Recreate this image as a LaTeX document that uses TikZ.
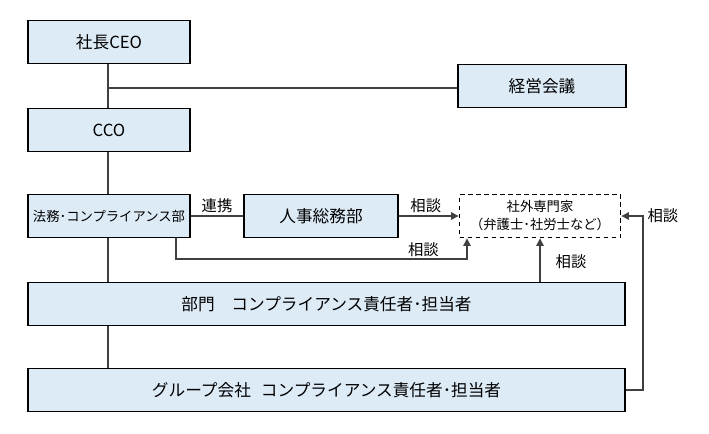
\documentclass[tikz,border=0pt]{standalone}
\usepackage{fontspec}
\setmainfont{Noto Sans CJK JP}
\usetikzlibrary{arrows.meta}
\definecolor{boxfill}{HTML}{DDEBF7}
\begin{document}
\begin{tikzpicture}[x=0.75pt,y=-0.75pt,
  orgbox/.style={draw=black,line width=1.4pt,fill=boxfill,inner sep=0pt,font=\fontsize{12.5}{14}\selectfont,minimum height=32.25pt},
  extbox/.style={draw=black,line width=1.4pt,dash pattern=on 3.5pt off 2.5pt,fill=white,inner sep=0pt,font=\fontsize{10}{13.5}\selectfont,align=center,minimum height=32.25pt},
  link/.style={draw=black!75,line width=0.9pt},
  arr/.style={link,-{Triangle[length=5.5pt,width=5.5pt]}},
  lbl/.style={font=\fontsize{11.5}{13}\selectfont,inner sep=1pt}]
\useasboundingbox (0,0) rectangle (709,433);
% boxes
\node[orgbox,minimum width=121.5pt] (ceo) at (109,42) {社長CEO};
\node[orgbox,minimum width=121.5pt] (cco) at (109,130) {CCO};
\node[orgbox,minimum width=126pt] (kei) at (542,86) {経営会議};
\node[orgbox,minimum width=121.5pt,font=\fontsize{10}{12}\selectfont] (hom) at (109,216) {法務･コンプライアンス部};
\node[orgbox,minimum width=115.5pt] (jin) at (321,216) {人事総務部};
\node[extbox,minimum width=120.75pt] (ext) at (540,216) {社外専門家\\（弁護士･社労士など）};
\node[orgbox,minimum width=447.75pt] (bum) at (326.5,304) {部門\hspace{1em}コンプライアンス責任者･担当者};
\node[orgbox,minimum width=447.75pt] (grp) at (326.5,390) {グループ会社\hspace{0.6em}コンプライアンス責任者･担当者};
% vertical spine
\coordinate (j1) at (108,88);
\draw[link] (ceo.south -| j1) -- (cco.north -| j1);
\draw[link] (j1) -- (kei.west |- j1);
\draw[link] (cco.south -| j1) -- (hom.north -| j1);
\draw[link] (hom.south -| j1) -- (bum.north -| j1);
\draw[link] (bum.south -| j1) -- (grp.north -| j1);
% horizontal links
\draw[link] (hom.east) -- node[lbl,above=1pt]{連携} (jin.west);
\draw[arr] (jin.east) -- node[lbl,above=1pt,pos=0.45]{相談} (ext.west);
% 法務 -> ext bottom
\coordinate (h1) at (176,259);
\coordinate (h2) at (467,259);
\draw[arr] (hom.south -| h1) -- (h1) -- node[lbl,above,pos=0.85]{相談} (h2) -- (ext.south -| h2);
% 部門 -> ext
\coordinate (b1) at (540,282);
\draw[arr] (bum.north -| b1) -- (ext.south -| b1);
\node[lbl] (lb3) at (571,262) {相談};
% グループ -> ext right
\coordinate (g1) at (643,390);
\coordinate (g2) at (643,216);
\draw[arr] (grp.east) -- (g1) -- (g2) -- (ext.east);
\node[lbl,anchor=west] (lb4) at (646,216) {相談};
\end{tikzpicture}
\end{document}
